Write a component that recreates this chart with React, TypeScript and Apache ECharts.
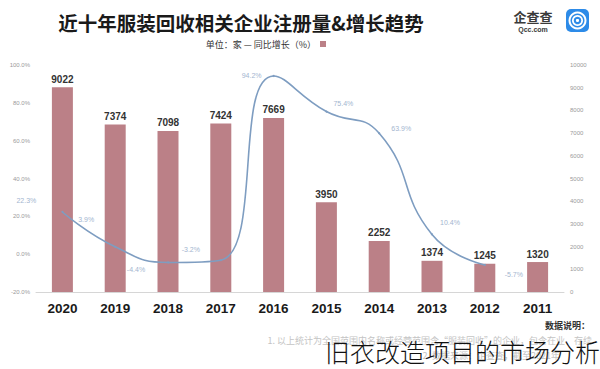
import React, { useEffect, useRef } from 'react';
import * as echarts from 'echarts';

// Data (layout mirrored like the reference: newest year on the left)
const years = ['2020', '2019', '2018', '2017', '2016', '2015', '2014', '2013', '2012', '2011'];
const registrations = [9022, 7374, 7098, 7424, 7669, 3950, 2252, 1374, 1245, 1320];
const growthRates: (number | null)[] = [22.3, 3.9, -4.4, -3.2, 94.2, 75.4, 63.9, 10.4, -5.7, null];

const titleText = '近十年服装回收相关企业注册量&增长趋势';
const unitText = '单位：家 — 同比增长（%）';
const noteTitle = '数据说明：';
const noteLine1 = '1. 以上统计为全国范围内名称或经营范围含“服装回收”的企业，包含在业、存续';
const noteLine2 = '2. 数据来源：企查查，截至2021年';
const watermark = '旧衣改造项目的市场分析';

// Label placement styles for the growth labels (px offsets from each point)
const growthLabelOffsets: [number, number][] = [
  [-36, -11], [-29, -27], [-32, 7], [-30, -11], [-22, 0],
  [17, -8], [22, -5], [18, -12], [29, 10], [0, 0],
];

const BAR_COLOR = '#bb8087';
const LINE_COLOR = '#7e9dc1';

export default function App() {
  const ref = useRef<HTMLDivElement>(null);

  useEffect(() => {
    if (!ref.current) return;
    const chart = echarts.init(ref.current, undefined, { renderer: 'svg' });

    const lineData = growthRates.map((v, i) =>
      v == null ? '-' : { value: v, label: { offset: growthLabelOffsets[i] } }
    );

    chart.setOption({
      animation: false,
      backgroundColor: '#ffffff',
      grid: { left: 36, right: 36, top: 65, bottom: 77 },
      xAxis: {
        type: 'category',
        data: years,
        axisTick: { show: false },
        axisLine: { lineStyle: { color: '#d6d6d6', width: 1 } },
        axisLabel: {
          color: '#1a1a1a',
          fontSize: 13.5,
          fontWeight: 'bold',
          fontFamily: 'Liberation Sans',
          margin: 9,
        },
      },
      yAxis: [
        {
          type: 'value',
          position: 'right',
          min: 0,
          max: 10000,
          interval: 1000,
          splitLine: { show: false },
          axisLine: { show: false },
          axisTick: { show: false },
          axisLabel: {
            color: '#9a9a9a',
            fontSize: 6,
            margin: 6,
            formatter: (v: number) => String(v),
          },
        },
        {
          type: 'value',
          position: 'left',
          min: -20,
          max: 100,
          interval: 20,
          splitLine: { show: false },
          axisLine: { show: false },
          axisTick: { show: false },
          axisLabel: {
            color: '#9a9a9a',
            fontSize: 6,
            margin: 6,
            formatter: (v: number) => v.toFixed(1) + '%',
          },
        },
      ],
      series: [
        {
          type: 'bar',
          yAxisIndex: 0,
          data: registrations,
          barWidth: 21,
          itemStyle: { color: BAR_COLOR },
          label: {
            show: true,
            position: 'top',
            distance: 3,
            color: '#333333',
            fontSize: 10,
            fontWeight: 'bold',
            fontFamily: 'Liberation Sans',
          },
        },
        {
          type: 'line',
          yAxisIndex: 1,
          data: lineData,
          smooth: 0.5,
          symbol: 'circle',
          symbolSize: 2,
          lineStyle: { color: LINE_COLOR, width: 1.6 },
          itemStyle: { color: LINE_COLOR },
          label: {
            show: true,
            position: 'inside',
            color: '#a3b5cf',
            fontSize: 7,
            formatter: (p: any) => p.value + '%',
          },
        },
      ],
      graphic: [
        {
          type: 'text',
          x: 241,
          y: 22,
          style: {
            text: titleText,
            fontSize: 19.5,
            fontWeight: 'bold',
            fontFamily: 'Noto Sans CJK SC',
            fill: '#1a1a1a',
            align: 'center',
            verticalAlign: 'middle',
          },
        },
        // logo
        {
          type: 'rect',
          shape: { x: 566, y: 9, width: 23, height: 23, r: 5 },
          style: { fill: '#2d8be8' },
        },
        {
          type: 'ring',
          shape: { cx: 577.5, cy: 20.5, r: 9, r0: 7 },
          style: { fill: '#ffffff' },
        },
        {
          type: 'ring',
          shape: { cx: 577.5, cy: 20.5, r: 5.5, r0: 3.8 },
          style: { fill: '#ffffff' },
        },
        {
          type: 'circle',
          shape: { cx: 577.5, cy: 20.5, r: 1.6 },
          style: { fill: '#ffffff' },
        },
        {
          type: 'text',
          x: 533,
          y: 16,
          style: {
            text: '企查查',
            fontSize: 13,
            fontWeight: 'bold',
            fontFamily: 'Noto Sans CJK SC',
            fill: '#3a3a3a',
            align: 'center',
            verticalAlign: 'middle',
          },
        },
        {
          type: 'text',
          x: 533,
          y: 29,
          style: {
            text: 'Qcc.com',
            fontSize: 7,
            fontWeight: 'bold',
            fontFamily: 'Liberation Sans',
            fill: '#3a3a3a',
            align: 'center',
            verticalAlign: 'middle',
          },
        },
        // unit legend
        {
          type: 'rect',
          shape: { x: 320, y: 41, width: 6, height: 6 },
          style: { fill: BAR_COLOR },
        },
        {
          type: 'text',
          x: 316,
          y: 44,
          style: {
            text: unitText,
            fontSize: 9,
            fontFamily: 'Noto Sans CJK SC',
            fill: '#333333',
            align: 'right',
            verticalAlign: 'middle',
          },
        },
        // notes
        {
          type: 'text',
          x: 590,
          y: 325,
          style: {
            text: noteTitle,
            fontSize: 9,
            fontWeight: 'bold',
            fontFamily: 'Noto Sans CJK SC',
            fill: '#333333',
            align: 'right',
            verticalAlign: 'middle',
          },
        },
        {
          type: 'text',
          x: 592,
          y: 340,
          style: {
            text: noteLine1,
            fontSize: 9,
            fontFamily: 'Noto Sans CJK SC',
            fill: '#c4c4c4',
            align: 'right',
            verticalAlign: 'middle',
          },
        },
        {
          type: 'text',
          x: 560,
          y: 355,
          style: {
            text: noteLine2,
            fontSize: 9,
            fontFamily: 'Noto Sans CJK SC',
            fill: '#c4c4c4',
            align: 'right',
            verticalAlign: 'middle',
          },
        },
        {
          type: 'text',
          x: 600,
          y: 351,
          z: 100,
          style: {
            text: watermark,
            fontSize: 25,
            fontWeight: 300,
            fontFamily: 'Noto Sans CJK SC',
            fill: '#111111',
            align: 'right',
            verticalAlign: 'middle',
          },
        },
      ],
    });

    return () => chart.dispose();
  }, []);

  return (
    <div
      ref={ref}
      style={{ position: 'fixed', left: 0, top: 0, width: 600, height: 369, background: '#fff' }}
    />
  );
}
